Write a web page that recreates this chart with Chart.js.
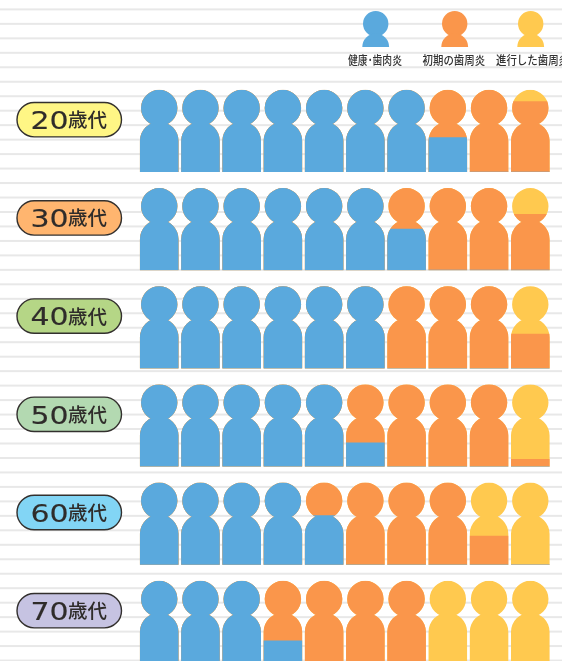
<!DOCTYPE html>
<html>
<head>
<meta charset="utf-8">
<title>年代別 歯周炎</title>
<script src="https://cdn.jsdelivr.net/npm/chart.js@4"></script>
<style>
  html, body { margin: 0; padding: 0; background: #fff; overflow: hidden; }
  canvas { display: block; }
</style>
</head>
<body>
<canvas id="chart" width="562" height="661"></canvas>
<script>
// percent of each age group, 10 people = 100%
const ages = ['20', '30', '40', '50', '60', '70'];
const healthy = [74.2, 65.0, 60.0, 52.9, 46.0, 32.7];
const early = [24.4, 31.8, 34.2, 38.0, 37.5, 37.3];
const advanced = [1.4, 3.2, 5.8, 9.1, 16.5, 30.0];
const people = ['1', '2', '3', '4', '5', '6', '7', '8', '9', '10'];
const seriesNames = ['健康･歯肉炎', '初期の歯周炎', '進行した歯周炎'];
const seriesColors = ['#5aa9dd', '#fa964b', '#ffc94f'];
const pillColors = ['#fff685', '#ffb56f', '#b5d686', '#b3d9b1', '#82d5f5', '#c6c3e2'];

const ROW_PX = 98.2;
const PERSON_H = 82 / ROW_PX;
const suffix = '歳代';

function share(value, p) {
  return Math.max(0, Math.min(1, value / 10 - p));
}

// chart.js paints the first dataset last, so blue goes on top of orange on top of yellow
const datasets = [];
ages.forEach((age, r) => {
  const base = ages.length - 1 - r;
  const bar = frac => [base, base + frac * PERSON_H];
  const cumEarly = healthy[r] + early[r];
  const layers = [
    { c: 0, fracs: people.map((_, p) => share(healthy[r], p)) },
    { c: 1, fracs: people.map((_, p) => share(cumEarly, p)) },
    { c: 2, fracs: people.map((_, p) => share(cumEarly + advanced[r], p)) }
  ];
  layers.forEach(l => {
    datasets.push({
      label: age + suffix + ' ' + seriesNames[l.c],
      data: l.fracs.map(bar),
      backgroundColor: seriesColors[l.c],
      borderWidth: 0,
      barThickness: 39
    });
  });
});

const stripes = {
  id: 'stripes',
  beforeDraw(chart) {
    const ctx = chart.ctx;
    ctx.save();
    ctx.fillStyle = '#fff';
    ctx.fillRect(0, 0, chart.width, chart.height);
    ctx.fillStyle = '#e8e8e8';
    for (let y = 9.4; y < chart.height; y += 14.47) {
      ctx.fillRect(0, y - 1, chart.width, 2);
    }
    ctx.restore();
  }
};

function personPath(ctx, cx, yb) {
  const bw = 19.3;
  ctx.moveTo(cx - bw, yb);
  ctx.lineTo(cx - bw, yb - 31);
  ctx.arc(cx, yb - 31, bw, Math.PI, 0);
  ctx.lineTo(cx + bw, yb);
  ctx.closePath();
  ctx.moveTo(cx + 18.2, yb - 64);
  ctx.arc(cx, yb - 64, 18.2, 0, Math.PI * 2);
}

const personClip = {
  id: 'personClip',
  beforeDatasetsDraw(chart) {
    const ctx = chart.ctx;
    const { x, y } = chart.scales;
    ctx.save();
    ctx.beginPath();
    ages.forEach((_, r) => {
      const yb = y.getPixelForValue(ages.length - 1 - r);
      people.forEach((_, p) => personPath(ctx, x.getPixelForValue(p), yb));
    });
    ctx.clip();
  },
  afterDatasetsDraw(chart) {
    chart.ctx.restore();
  }
};

const pills = {
  id: 'pills',
  afterDraw(chart) {
    const ctx = chart.ctx;
    const y = chart.scales.y;
    ctx.save();
    ages.forEach((age, r) => {
      const cy = y.getPixelForValue(ages.length - 1 - r + 0.5326);
      ctx.beginPath();
      ctx.roundRect(17, cy - 17.2, 104.5, 34.4, 17.2);
      ctx.fillStyle = pillColors[r];
      ctx.fill();
      ctx.lineWidth = 1.4;
      ctx.strokeStyle = '#33302e';
      ctx.stroke();

      ctx.fillStyle = '#2f2c2a';
      ctx.textBaseline = 'alphabetic';
      ctx.textAlign = 'left';
      // the digits are a wide face in the original
      ctx.save();
      ctx.translate(30.5, cy + 9.3);
      ctx.scale(1.2, 1);
      ctx.font = '25px "DejaVu Sans"';
      ctx.lineWidth = 0.15;
      ctx.strokeStyle = '#2f2c2a';
      ctx.strokeText(age, 0, 0);
      ctx.fillText(age, 0, 0);
      ctx.restore();
      ctx.font = '500 19.5px "Noto Sans CJK JP"';
      ctx.fillText(suffix, 68, cy + 7.5);
    });
    ctx.restore();
  }
};

const legendIcons = {
  id: 'legendIcons',
  afterDraw(chart) {
    const ctx = chart.ctx;
    const centers = [375.7, 454.7, 530.7];
    const textCenters = [375, 453.8, 532.5];
    const textWidths = [54, 62.5, 73];
    ctx.save();
    seriesNames.forEach((name, i) => {
      const cx = centers[i];
      ctx.fillStyle = seriesColors[i];
      ctx.beginPath();
      ctx.arc(cx, 23.7, 12.7, 0, Math.PI * 2);
      ctx.fill();
      ctx.beginPath();
      ctx.arc(cx, 47, 13.4, Math.PI, 0);
      ctx.closePath();
      ctx.fill();

      ctx.fillStyle = '#333';
      ctx.font = '500 12px "Noto Sans CJK JP"';
      ctx.textAlign = 'center';
      ctx.textBaseline = 'middle';
      ctx.fillText(name, textCenters[i], 60, textWidths[i]);
    });
    ctx.restore();
  }
};

new Chart(document.getElementById('chart').getContext('2d'), {
  type: 'bar',
  data: { labels: people, datasets: datasets },
  options: {
    responsive: false,
    animation: false,
    layout: { padding: { left: 138.6, right: 11.1, top: 0, bottom: 0 } },
    plugins: { legend: { display: false }, tooltip: { enabled: false } },
    scales: {
      x: { display: false, stacked: true },
      y: { display: false, min: 2 / ROW_PX, max: 663 / ROW_PX }
    }
  },
  plugins: [stripes, personClip, pills, legendIcons]
});
</script>
</body>
</html>
